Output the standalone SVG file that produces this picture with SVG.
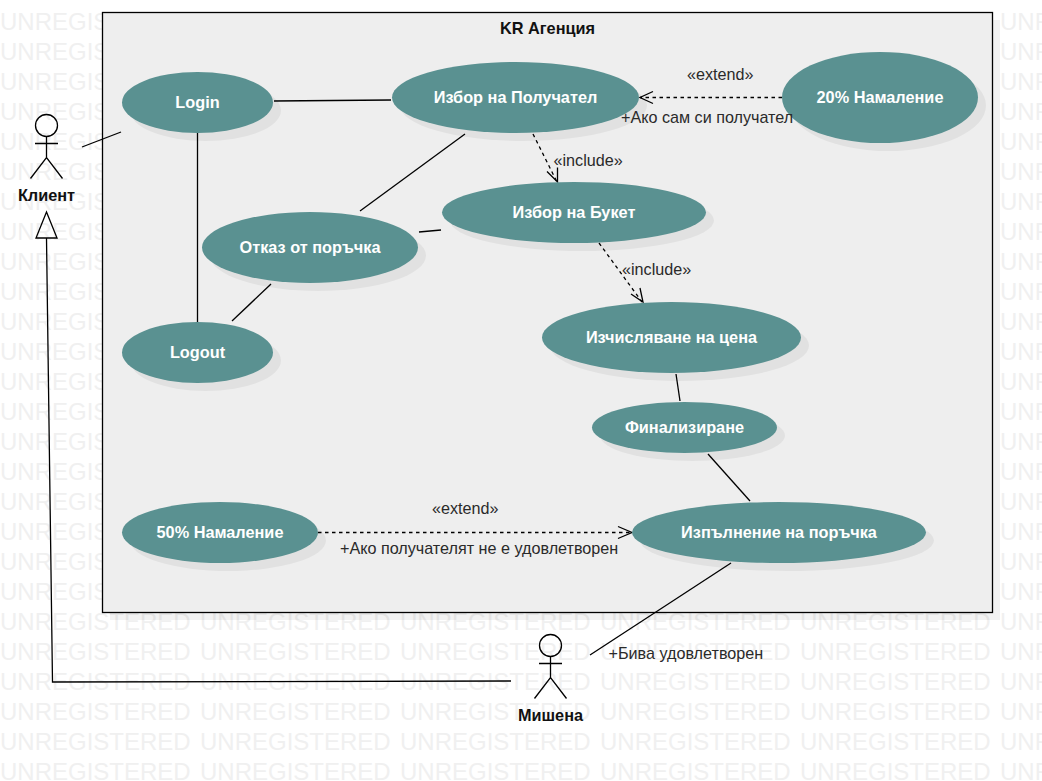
<svg xmlns="http://www.w3.org/2000/svg" xmlns:xlink="http://www.w3.org/1999/xlink" width="1042" height="781" viewBox="0 0 1042 781">
<style>
text{font-family:"Liberation Sans",Arial,sans-serif;font-size:16.17px}
.wm{font-size:24px;fill:#f0f0f0}
.uc{fill:#5a9191}
.sh{fill:#000;fill-opacity:.05}
.nl{font-weight:bold;font-size:16.3px;fill:#fff;text-anchor:middle}
.al{font-weight:bold;font-size:16.3px;fill:#111;text-anchor:middle}
.tt{font-weight:bold;font-size:16.3px;fill:#111;text-anchor:middle}
.lb{fill:#2a2a2a}
.ln{fill:none;stroke:#000;stroke-width:1.3}
.ds{fill:none;stroke:#000;stroke-width:1.3;stroke-dasharray:3.5 3.5}
.ar{fill:none;stroke:#000;stroke-width:1.3}
</style>
<defs>
<g id="wmrow"><text class="wm" x="0">UNREGISTERED</text><text class="wm" x="200">UNREGISTERED</text><text class="wm" x="400">UNREGISTERED</text><text class="wm" x="600">UNREGISTERED</text><text class="wm" x="800">UNREGISTERED</text><text class="wm" x="1000">UNREGISTERED</text></g>
<g id="stick" class="ar"><circle cx="0" cy="0" r="11"/><path d="M0 11V32M-11.500 18H11.500M-16 53L0 32L16 53"/></g>
</defs>
<rect width="1042" height="781" fill="#fff"/>
<g id="watermark">
<use xlink:href="#wmrow" y="30"/><use xlink:href="#wmrow" y="60"/><use xlink:href="#wmrow" y="90"/><use xlink:href="#wmrow" y="120"/><use xlink:href="#wmrow" y="150"/><use xlink:href="#wmrow" y="180"/><use xlink:href="#wmrow" y="210"/><use xlink:href="#wmrow" y="240"/><use xlink:href="#wmrow" y="270"/><use xlink:href="#wmrow" y="300"/><use xlink:href="#wmrow" y="330"/><use xlink:href="#wmrow" y="360"/><use xlink:href="#wmrow" y="390"/><use xlink:href="#wmrow" y="420"/><use xlink:href="#wmrow" y="450"/><use xlink:href="#wmrow" y="480"/><use xlink:href="#wmrow" y="510"/><use xlink:href="#wmrow" y="540"/><use xlink:href="#wmrow" y="570"/><use xlink:href="#wmrow" y="600"/><use xlink:href="#wmrow" y="630"/><use xlink:href="#wmrow" y="660"/><use xlink:href="#wmrow" y="690"/><use xlink:href="#wmrow" y="720"/><use xlink:href="#wmrow" y="750"/><use xlink:href="#wmrow" y="780"/>
</g>
<g id="system">
<rect x="110" y="20" width="890" height="600" class="sh"/>
<rect x="102.500" y="12.500" width="890" height="600" fill="#eee" stroke="#000" stroke-width="1.300"/>
<text class="tt" x="547.500" y="34">KR Агенция</text>
</g>
<g id="connectors">
<path class="ln" d="M82 147L121 132"/>
<path class="ln" d="M274 101L391 100"/>
<path class="ln" d="M197.500 133V322"/>
<path class="ln" d="M360 211L465 134"/>
<path class="ln" d="M419 232L441 230"/>
<path class="ln" d="M271 284L232 321"/>
<path class="ln" d="M676 374L680 401"/>
<path class="ln" d="M708 454L750 501"/>
<path class="ln" d="M731 563L590 655"/>
<path class="ln" d="M46.500 238L52.500 682L511 681"/>
<path class="ar" d="M57 238L46.500 212L36 238Z"/>
<path class="ds" d="M782 97.500H640"/>
<path class="ar" d="M653 91.500L640 97.500L653 103.500"/>
<path class="ds" d="M533 134L557 182"/>
<path class="ar" d="M547 171.500L557.500 182L557.500 167.500"/>
<path class="ds" d="M599 243L642 302"/>
<path class="ar" d="M631 294L643 302L640 288"/>
<path class="ds" d="M318 532.500H631"/>
<path class="ar" d="M618 526.500L632 532.500L618 538.500"/>
</g>
<g id="login"><ellipse class="sh" cx="205.500" cy="110.500" rx="75.500" ry="30.500"/><ellipse class="uc" cx="197.500" cy="102.500" rx="75.500" ry="30.500"/><text class="nl" x="197.500" y="108">Login</text></g>
<g id="izbor-poluchatel"><ellipse class="sh" cx="523.500" cy="105.500" rx="123.500" ry="35.500"/><ellipse class="uc" cx="515.500" cy="97.500" rx="123.500" ry="35.500"/><text class="nl" x="515.500" y="103">Избор на Получател</text></g>
<g id="namalenie-20"><ellipse class="sh" cx="888" cy="105.500" rx="98" ry="45.500"/><ellipse class="uc" cx="880" cy="97.500" rx="98" ry="45.500"/><text class="nl" x="880" y="103">20% Намаление</text></g>
<g id="izbor-buket"><ellipse class="sh" cx="582" cy="220.500" rx="132" ry="30.500"/><ellipse class="uc" cx="574" cy="212.500" rx="132" ry="30.500"/><text class="nl" x="574" y="218">Избор на Букет</text></g>
<g id="otkaz"><ellipse class="sh" cx="318" cy="255.500" rx="108" ry="35.500"/><ellipse class="uc" cx="310" cy="247.500" rx="108" ry="35.500"/><text class="nl" x="310" y="253">Отказ от поръчка</text></g>
<g id="logout"><ellipse class="sh" cx="205.500" cy="360.500" rx="75.500" ry="30.500"/><ellipse class="uc" cx="197.500" cy="352.500" rx="75.500" ry="30.500"/><text class="nl" x="197.500" y="358">Logout</text></g>
<g id="izchisliavane"><ellipse class="sh" cx="679.500" cy="345.500" rx="129.500" ry="35.500"/><ellipse class="uc" cx="671.500" cy="337.500" rx="129.500" ry="35.500"/><text class="nl" x="671.500" y="343">Изчисляване на цена</text></g>
<g id="finalizirane"><ellipse class="sh" cx="692.500" cy="435.500" rx="92.500" ry="25.500"/><ellipse class="uc" cx="684.500" cy="427.500" rx="92.500" ry="25.500"/><text class="nl" x="684.500" y="433">Финализиране</text></g>
<g id="namalenie-50"><ellipse class="sh" cx="228" cy="540.500" rx="98" ry="30.500"/><ellipse class="uc" cx="220" cy="532.500" rx="98" ry="30.500"/><text class="nl" x="220" y="538">50% Намаление</text></g>
<g id="izpalnenie"><ellipse class="sh" cx="787" cy="540.500" rx="147" ry="30.500"/><ellipse class="uc" cx="779" cy="532.500" rx="147" ry="30.500"/><text class="nl" x="779" y="538">Изпълнение на поръчка</text></g>
<g id="klient"><use xlink:href="#stick" x="46.500" y="125.500"/><text class="al" x="46.500" y="201">Клиент</text></g>
<g id="mishena"><use xlink:href="#stick" x="550.500" y="645.500"/><text class="al" x="550.500" y="721">Мишена</text></g>
<g id="labels">
<text class="lb" x="687" y="80">«extend»</text>
<text class="lb" x="621" y="123">+Ако сам си получател</text>
<text class="lb" x="553.500" y="166">«include»</text>
<text class="lb" x="622" y="275">«include»</text>
<text class="lb" x="432" y="514">«extend»</text>
<text class="lb" x="340" y="554">+Ако получателят не е удовлетворен</text>
<text class="lb" x="608.500" y="659">+Бива удовлетворен</text>
</g>
</svg>
